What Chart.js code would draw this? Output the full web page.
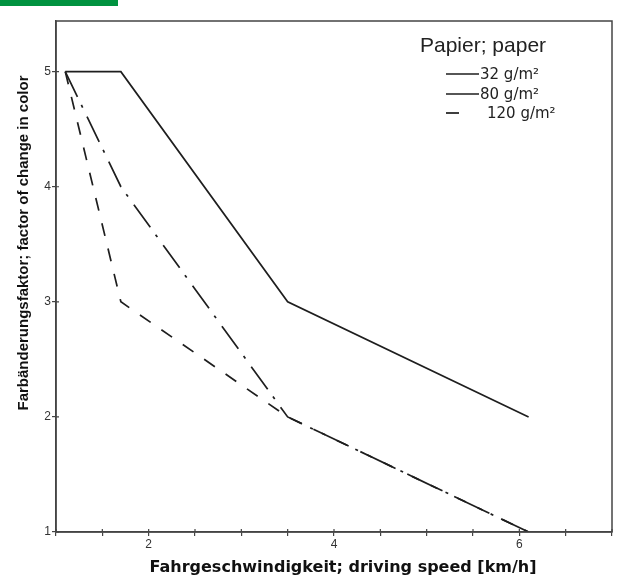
<!DOCTYPE html>
<html>
<head>
<meta charset="utf-8">
<script src="https://cdn.jsdelivr.net/npm/chart.js@4"></script>
<style>
  body { margin: 0; background: #fff; }
  #wrap { position: relative; width: 617px; height: 585px; }
  #bar { position: absolute; left: 0; top: 0; width: 118px; height: 6px; background: #00923f; }
</style>
</head>
<body>
<div id="wrap">
  <canvas id="chart" width="617" height="585"></canvas>
  <div id="bar"></div>
</div>
<script>
const speeds = [1.1, 1.7, 3.5, 6.1];
const factor32 = [5, 5, 3, 2];
const factor80 = [5, 4, 2, 1];
const factor120 = [5, 3, 2, 1];
const seriesLabels = ["32 g/m²", "80 g/m²", "120 g/m²"];
const xLabelTicks = [2, 4, 6];
const yTicks = [1, 2, 3, 4, 5];

const ink = "#1e1e1e";
const dashes = [[], [28, 9, 3, 10], [13, 13]];

const points = (ys) => speeds.map((x, i) => ({ x, y: ys[i] }));

// frame, inner tick marks, axis titles and the legend block
const decor = {
  id: "decor",
  afterDraw(chart) {
    const { ctx, chartArea: area, scales } = chart;
    ctx.save();
    ctx.strokeStyle = "#444";
    ctx.lineWidth = 1.5;
    ctx.strokeRect(area.left, area.top, area.right - area.left, area.bottom - area.top);

    ctx.lineWidth = 1.2;
    ctx.beginPath();
    scales.x.ticks.forEach((t) => {
      const px = scales.x.getPixelForValue(t.value);
      ctx.moveTo(px, area.bottom);
      ctx.lineTo(px, area.bottom - 3);
    });
    scales.y.ticks.forEach((t) => {
      const py = scales.y.getPixelForValue(t.value);
      ctx.moveTo(area.left, py);
      ctx.lineTo(area.left + 3, py);
    });
    ctx.stroke();

    ctx.fillStyle = "#111";
    ctx.textAlign = "center";
    ctx.textBaseline = "middle";
    ctx.font = "bold 16px 'DejaVu Sans', Verdana, sans-serif";
    ctx.fillText("Fahrgeschwindigkeit; driving speed [km/h]", 343, 568);
    ctx.save();
    ctx.translate(24, 243);
    ctx.rotate(-Math.PI / 2);
    ctx.font = "bold 15px 'Liberation Sans', Arial, sans-serif";
    ctx.fillText("Farbänderungsfaktor; factor of change in color", 0, 0);
    ctx.restore();

    ctx.fillStyle = "#222";
    ctx.textAlign = "left";
    ctx.font = "21px 'Liberation Sans', Arial, sans-serif";
    ctx.fillText("Papier; paper", 420, 46);
    ctx.font = "15px 'DejaVu Sans', Verdana, sans-serif";
    const rows = [74, 94, 113];
    const sampleEnd = [479, 479, 466];
    const textX = [480, 480, 487];
    seriesLabels.forEach((label, i) => {
      ctx.strokeStyle = ink;
      ctx.lineWidth = 1.7;
      ctx.setLineDash(i === 1 ? [] : dashes[i]);
      ctx.beginPath();
      ctx.moveTo(446, rows[i]);
      ctx.lineTo(sampleEnd[i], rows[i]);
      ctx.stroke();
      ctx.setLineDash([]);
      ctx.fillText(label, textX[i], rows[i] + 1);
    });
    ctx.restore();
  },
};

new Chart(document.getElementById("chart"), {
  type: "scatter",
  data: {
    datasets: [factor32, factor80, factor120].map((ys, i) => ({
      label: seriesLabels[i],
      data: points(ys),
      showLine: true,
      borderColor: ink,
      borderWidth: 1.7,
      borderDash: dashes[i],
      pointRadius: 0,
      tension: 0,
    })),
  },
  options: {
    responsive: false,
    animation: false,
    layout: { padding: { top: 21, right: 5, left: 0, bottom: 0 } },
    plugins: { legend: { display: false }, tooltip: { enabled: false } },
    scales: {
      x: {
        type: "linear",
        min: 1,
        max: 7,
        afterFit: (scale) => { scale.height = 53; },
        border: { color: "#444", width: 1.5 },
        grid: { drawOnChartArea: false, tickLength: 4, color: "#444", lineWidth: 1.2 },
        ticks: {
          stepSize: 0.5,
          autoSkip: false,
          maxRotation: 0,
          padding: 1,
          color: "#333",
          font: { family: "'Liberation Sans', Arial, sans-serif", size: 12 },
          callback: (v) => (xLabelTicks.includes(v) ? String(v) : ""),
        },
      },
      y: {
        type: "linear",
        min: 1,
        max: 5.44,
        afterFit: (scale) => { scale.width = 56; },
        border: { color: "#444", width: 1.5 },
        grid: { drawOnChartArea: false, tickLength: 4, color: "#444", lineWidth: 1.2 },
        ticks: {
          stepSize: 1,
          includeBounds: false,
          padding: 1,
          color: "#333",
          font: { family: "'Liberation Sans', Arial, sans-serif", size: 12 },
          callback: (v) => (yTicks.includes(v) ? String(v) : ""),
        },
      },
    },
  },
  plugins: [decor],
});
</script>
</body>
</html>
